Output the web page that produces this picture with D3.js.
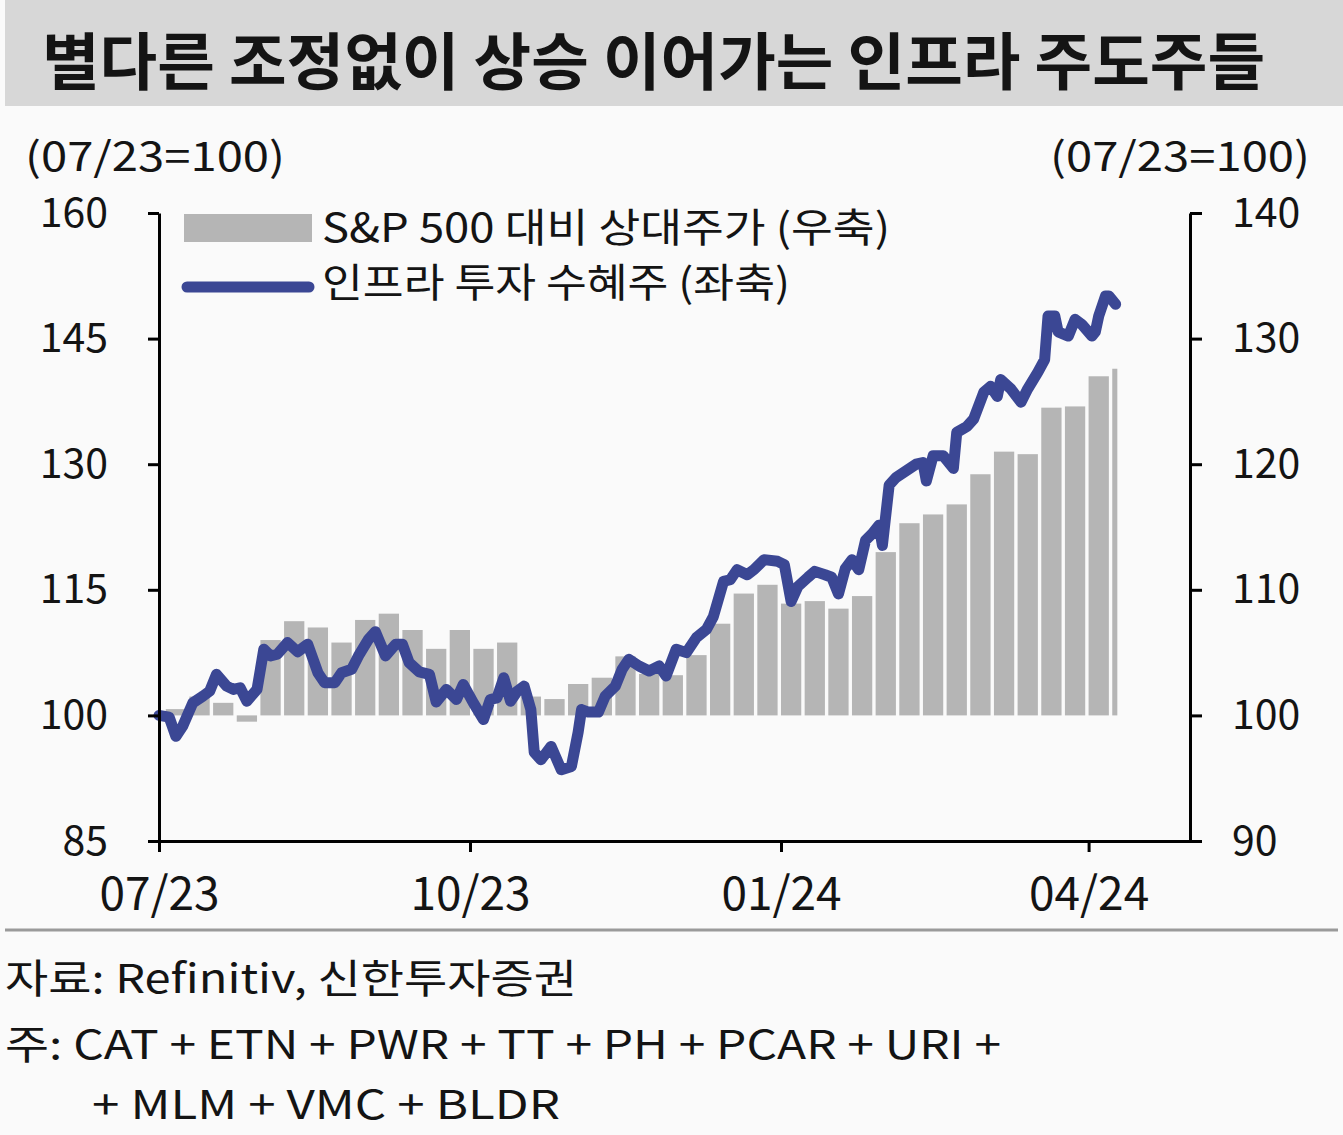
<!DOCTYPE html>
<html>
<head>
<meta charset="utf-8">
<script src="https://cdn.jsdelivr.net/npm/d3@7"></script>
<style>
  body { margin: 0; background: #fafafa; }
  svg text { font-family: "Noto Sans CJK KR", "Noto Sans", sans-serif; fill: #141414; }
</style>
</head>
<body>
<svg id="chart" width="1343" height="1135"></svg>
<script>
// 인프라 투자 수혜주 (좌축, 07/23=100)
const lineDates = [
  "2023-07-01","2023-07-04","2023-07-06","2023-07-08","2023-07-11","2023-07-14","2023-07-16","2023-07-18",
  "2023-07-21","2023-07-23","2023-07-25","2023-07-27","2023-07-30","2023-08-01","2023-08-03","2023-08-05",
  "2023-08-08","2023-08-11","2023-08-14","2023-08-17","2023-08-19","2023-08-22","2023-08-24","2023-08-27",
  "2023-08-29","2023-09-01","2023-09-03","2023-09-06","2023-09-09","2023-09-11","2023-09-13","2023-09-16",
  "2023-09-19","2023-09-21","2023-09-24","2023-09-27","2023-09-29","2023-10-02","2023-10-05","2023-10-07",
  "2023-10-09","2023-10-11","2023-10-13","2023-10-15","2023-10-17","2023-10-19","2023-10-20","2023-10-22",
  "2023-10-25","2023-10-28","2023-10-31","2023-11-02","2023-11-03","2023-11-05","2023-11-08","2023-11-10",
  "2023-11-13","2023-11-15","2023-11-17","2023-11-20","2023-11-23","2023-11-26","2023-11-28","2023-12-01",
  "2023-12-04","2023-12-07","2023-12-10","2023-12-12","2023-12-15","2023-12-17","2023-12-19","2023-12-22",
  "2023-12-24","2023-12-27","2023-12-31","2024-01-02","2024-01-04","2024-01-06","2024-01-09","2024-01-11",
  "2024-01-14","2024-01-16","2024-01-18","2024-01-20","2024-01-22","2024-01-24","2024-01-26","2024-01-28",
  "2024-01-30","2024-01-31","2024-02-02","2024-02-04","2024-02-07","2024-02-10","2024-02-12","2024-02-13",
  "2024-02-15","2024-02-18","2024-02-21","2024-02-22","2024-02-25","2024-02-27","2024-03-01","2024-03-03",
  "2024-03-05","2024-03-06","2024-03-09","2024-03-12","2024-03-14","2024-03-17","2024-03-19","2024-03-20",
  "2024-03-22","2024-03-23","2024-03-26","2024-03-28","2024-03-30","2024-04-02","2024-04-03","2024-04-04",
  "2024-04-06","2024-04-07","2024-04-09"
];
const lineValues = [
  100.0, 99.8, 97.5, 98.7, 101.5, 102.3, 102.9, 104.9,
  103.5, 103.1, 103.3, 101.7, 103.1, 107.9, 107.1, 107.3,
  108.7, 107.6, 108.5, 105.1, 103.9, 103.9, 105.1, 105.5,
  107.1, 109.1, 110.0, 107.1, 108.5, 108.5, 106.3, 105.2,
  104.9, 101.6, 103.1, 101.9, 103.7, 101.5, 99.5, 101.9,
  102.1, 104.5, 101.7, 102.9, 103.5, 100.7, 95.6, 94.7,
  96.3, 93.5, 93.9, 98.0, 100.7, 100.4, 100.4, 102.3,
  103.5, 105.5, 106.7, 105.9, 105.3, 105.9, 104.7, 107.9,
  107.5, 109.3, 110.3, 111.8, 116.0, 116.2, 117.4, 116.8,
  117.4, 118.6, 118.4, 118.0, 113.6, 115.4, 116.5, 117.2,
  116.8, 116.5, 114.5, 117.5, 118.6, 117.4, 120.9, 121.7,
  122.7, 120.3, 127.5, 128.4, 129.2, 130.0, 130.2, 128.0,
  131.0, 131.0, 129.5, 133.8, 134.5, 135.4, 138.6, 139.3,
  138.1, 140.1, 139.0, 137.4, 139.0, 141.0, 142.5, 147.7,
  147.7, 145.8, 145.3, 147.3, 146.7, 145.3, 145.8, 147.7,
  150.1, 150.1, 149.1
];

// S&P 500 대비 상대주가 (우축), 주간
const barWeeks = [
  "2023-07-03","2023-07-10","2023-07-17","2023-07-24","2023-07-31","2023-08-07","2023-08-14","2023-08-21",
  "2023-08-28","2023-09-04","2023-09-11","2023-09-18","2023-09-25","2023-10-02","2023-10-09","2023-10-16",
  "2023-10-23","2023-10-30","2023-11-06","2023-11-13","2023-11-20","2023-11-27","2023-12-04","2023-12-11",
  "2023-12-18","2023-12-25","2024-01-01","2024-01-08","2024-01-15","2024-01-22","2024-01-29","2024-02-05",
  "2024-02-12","2024-02-19","2024-02-26","2024-03-04","2024-03-11","2024-03-18","2024-03-25","2024-04-01",
  "2024-04-08"
];
const barValues = [
  100.5, 101.5, 101.0, 99.5, 106.0, 107.5, 107.0, 105.8,
  107.6, 108.1, 106.8, 105.3, 106.8, 105.3, 105.8, 101.5,
  101.3, 102.5, 103.0, 104.7, 103.3, 103.2, 104.8, 107.3,
  109.7, 110.4, 108.9, 109.1, 108.5, 109.5, 113.0, 115.3,
  116.0, 116.8, 119.2, 121.0, 120.8, 124.5, 124.6, 127.0,
  127.6
];

const leftTicks = [85, 100, 115, 130, 145, 160];
const rightTicks = [90, 100, 110, 120, 130, 140];
const xTickDates = ["2023-07-01", "2023-10-01", "2024-01-01", "2024-04-01"];
const xTickLabels = ["07/23", "10/23", "01/24", "04/24"];

const title = "별다른 조정없이 상승 이어가는 인프라 주도주들";
const unitLabel = "(07/23=100)";
const legendLabels = ["S&P 500 대비 상대주가 (우축)", "인프라 투자 수혜주 (좌축)"];
const notes = ["자료: Refinitiv, 신한투자증권", "주: CAT + ETN + PWR + TT + PH + PCAR + URI +", "+ MLM + VMC + BLDR"];

const BAR = "#b5b5b5", BLUE = "#3b4794";
const parse = d3.utcParse("%Y-%m-%d");
const DAY = 864e5;

const svg = d3.select("#chart");

// title banner
svg.append("rect").attr("x", 5).attr("y", 0).attr("width", 1338).attr("height", 106).attr("fill", "#d7d7d7");
svg.append("text").attr("x", 42).attr("y", 85)
  .attr("font-size", 62).attr("font-weight", 700)
  .attr("textLength", 1223).attr("lengthAdjust", "spacingAndGlyphs")
  .text(title);

const x = d3.scaleUtc().domain([parse("2023-07-01"), parse("2024-05-01")]).range([159, 1190]);
const yL = d3.scaleLinear().domain([85, 160]).range([841, 213]);
const yR = d3.scaleLinear().domain([90, 140]).range([841, 213]);

// bars (right axis)
const lastDate = parse(lineDates[lineDates.length - 1]);
svg.append("g").selectAll("rect")
  .data(barWeeks.map((d, i) => ({ d: parse(d), v: barValues[i] })))
  .join("rect")
  .attr("x", d => x(d.d))
  .attr("width", d => {
    const end = Math.min(+d.d + 6 * DAY, +lastDate + 0.5 * DAY);
    return x(new Date(end)) - x(d.d);
  })
  .attr("y", d => Math.min(yR(d.v), yR(100)))
  .attr("height", d => Math.abs(yR(d.v) - yR(100)))
  .attr("fill", BAR);

// line (left axis)
const pts = lineDates.map((d, i) => [parse(d), lineValues[i]]);
svg.append("path")
  .datum(pts)
  .attr("fill", "none")
  .attr("stroke", BLUE)
  .attr("stroke-width", 11)
  .attr("stroke-linejoin", "round")
  .attr("stroke-linecap", "round")
  .attr("d", d3.line().x(d => x(d[0])).y(d => yL(d[1])));

// axes
function styleAxis(g, size) {
  g.select(".domain").attr("stroke", "#000").attr("stroke-width", 3);
  g.selectAll(".tick line").attr("stroke", "#000").attr("stroke-width", 3);
  g.selectAll(".tick text").attr("font-size", size).attr("fill", "#141414")
    .style("font-family", '"Noto Sans CJK KR", "Noto Sans", sans-serif');
}

svg.append("g").attr("transform", "translate(159,0)")
  .call(d3.axisLeft(yL).tickValues(leftTicks).tickSize(11).tickSizeOuter(0).tickPadding(40))
  .call(g => styleAxis(g, 41));

svg.append("g").attr("transform", "translate(1190,0)")
  .call(d3.axisRight(yR).tickValues(rightTicks).tickSize(12).tickSizeOuter(0).tickPadding(30))
  .call(g => styleAxis(g, 41));

svg.append("g").attr("transform", "translate(0,841)")
  .call(d3.axisBottom(x).tickValues(xTickDates.map(parse))
    .tickFormat((d, i) => xTickLabels[i]).tickSize(11).tickSizeOuter(0).tickPadding(25))
  .call(g => styleAxis(g, 46));

// unit labels
svg.append("text").attr("x", 25).attr("y", 171).attr("font-size", 40)
  .attr("textLength", 260).attr("lengthAdjust", "spacingAndGlyphs").text(unitLabel);
svg.append("text").attr("x", 1050).attr("y", 171).attr("font-size", 40)
  .attr("textLength", 260).attr("lengthAdjust", "spacingAndGlyphs").text(unitLabel);

// legend
svg.append("rect").attr("x", 184).attr("y", 214).attr("width", 128).attr("height", 28).attr("fill", BAR);
svg.append("line").attr("x1", 187).attr("x2", 309).attr("y1", 287).attr("y2", 287)
  .attr("stroke", BLUE).attr("stroke-width", 11).attr("stroke-linecap", "round");
svg.append("text").attr("x", 322).attr("y", 242).attr("font-size", 40)
  .attr("textLength", 568).attr("lengthAdjust", "spacingAndGlyphs").text(legendLabels[0]);
svg.append("text").attr("x", 322).attr("y", 297).attr("font-size", 40)
  .attr("textLength", 468).attr("lengthAdjust", "spacingAndGlyphs").text(legendLabels[1]);

// separator and notes
svg.append("line").attr("x1", 5).attr("x2", 1338).attr("y1", 930).attr("y2", 930)
  .attr("stroke", "#9a9a9a").attr("stroke-width", 3);
const noteX = [5, 5, 92], noteY = [993, 1059, 1119], noteW = [572, 996, 468];
notes.forEach((t, i) => {
  svg.append("text").attr("x", noteX[i]).attr("y", noteY[i]).attr("font-size", 40)
    .attr("textLength", noteW[i]).attr("lengthAdjust", "spacingAndGlyphs").text(t);
});
</script>
</body>
</html>
